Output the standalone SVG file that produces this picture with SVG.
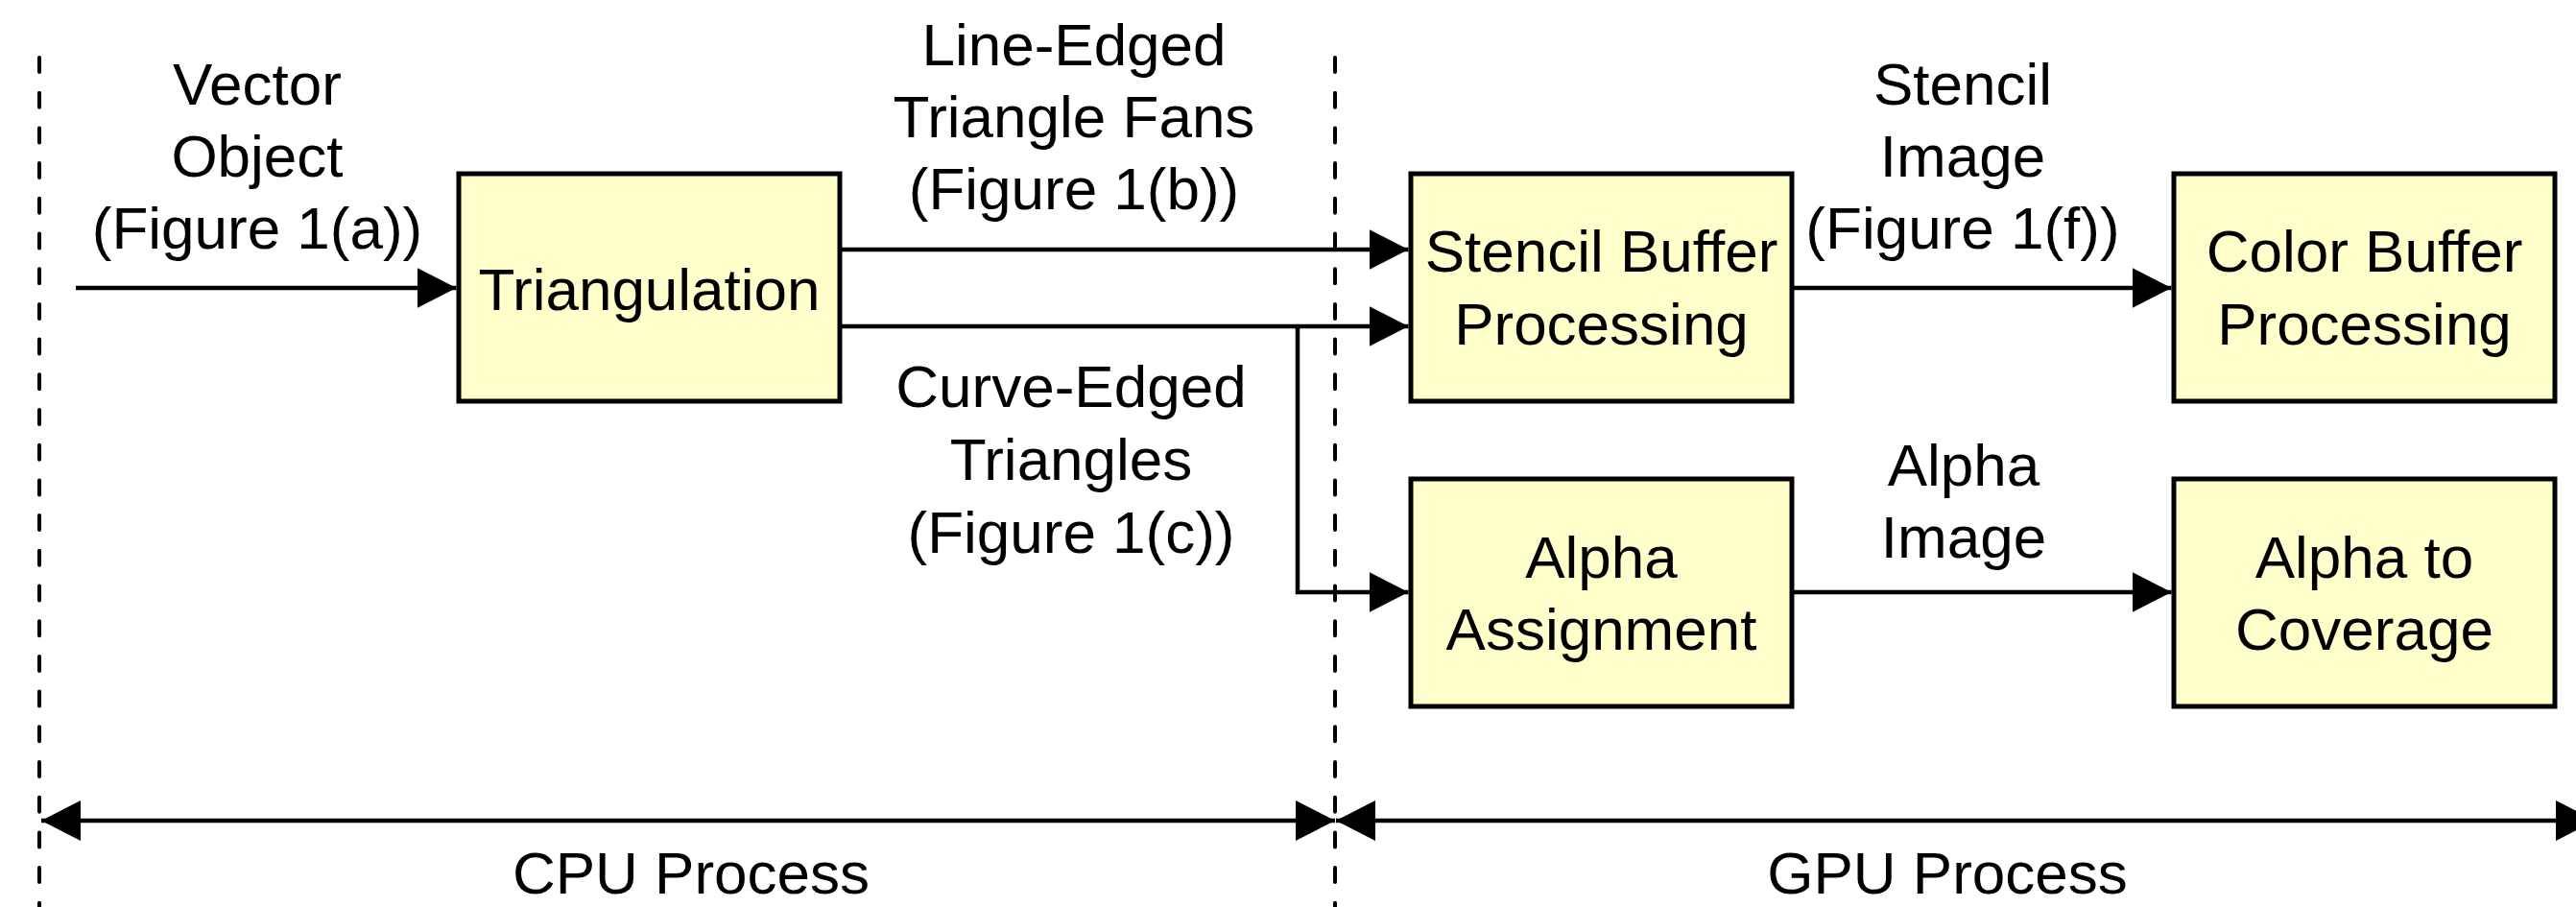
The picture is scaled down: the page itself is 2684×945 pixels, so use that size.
<svg xmlns="http://www.w3.org/2000/svg" width="2684" height="945" viewBox="0 0 2684 945">
  <style>
    .box { fill: #FFFFCC; stroke: #000; stroke-width: 5; }
    .t { font-family: "Liberation Sans", Arial, sans-serif; font-size: 62px; fill: #000; text-anchor: middle; }
    .conn { fill: none; stroke: #000; stroke-width: 4.5; }
    .arr { marker-end: url(#ah); }
    .dbl { marker-start: url(#ah); marker-end: url(#ah); }
    .dash { fill: none; stroke: #000; stroke-width: 4; stroke-linecap: round; stroke-dasharray: 15 21.7; }
  </style>
  <defs>
    <marker id="ah" markerUnits="userSpaceOnUse" markerWidth="41" markerHeight="42" refX="41" refY="21" orient="auto-start-reverse" viewBox="0 0 41 42">
      <path d="M0,0 L41,21 L0,42 Z" fill="#000"/>
    </marker>
  </defs>
  <rect width="2684" height="945" fill="#fff"/>

  <g id="dividers">
    <line class="dash" x1="41" y1="60" x2="41" y2="950"/>
    <line class="dash" x1="1391" y1="60" x2="1391" y2="950"/>
  </g>

  <g id="connectors">
    <path class="conn arr" d="M79,300 H475.5"/>
    <path class="conn arr" d="M875,260 H1467.5"/>
    <path class="conn arr" d="M875,340 H1467.5"/>
    <path class="conn arr" d="M1352,340 V617 H1467.5"/>
    <path class="conn arr" d="M1867,300 H2262.5"/>
    <path class="conn arr" d="M1867,617 H2262.5"/>
    <path class="conn dbl" d="M43,855 H1391"/>
    <path class="conn dbl" d="M1392,855 H2704"/>
  </g>

  <g id="labels">
    <text class="t" x="268" y="108.5">Vector</text>
    <text class="t" x="268" y="183.5">Object</text>
    <text class="t" x="268" y="258.5">(Figure 1(a))</text>
    <text class="t" x="1119" y="68">Line-Edged</text>
    <text class="t" x="1119" y="143">Triangle Fans</text>
    <text class="t" x="1119" y="218">(Figure 1(b))</text>
    <text class="t" x="1116" y="424">Curve-Edged</text>
    <text class="t" x="1116" y="500">Triangles</text>
    <text class="t" x="1116" y="576">(Figure 1(c))</text>
    <text class="t" x="2045" y="108.5">Stencil</text>
    <text class="t" x="2045" y="183.5">Image</text>
    <text class="t" x="2045" y="258.5">(Figure 1(f))</text>
    <text class="t" x="2046" y="506">Alpha</text>
    <text class="t" x="2046" y="581">Image</text>
    <text class="t" x="720" y="931">CPU Process</text>
    <text class="t" x="2029" y="931">GPU Process</text>
  </g>

  <g id="triangulation">
    <rect class="box" x="478" y="181" width="397" height="237"/>
    <text class="t" x="676.5" y="323">Triangulation</text>
  </g>
  <g id="stencil-buffer">
    <rect class="box" x="1470" y="181" width="397" height="237"/>
    <text class="t" x="1668.5" y="283">Stencil Buffer</text>
    <text class="t" x="1668.5" y="359">Processing</text>
  </g>
  <g id="color-buffer">
    <rect class="box" x="2265" y="181" width="397" height="237"/>
    <text class="t" x="2463.5" y="283">Color Buffer</text>
    <text class="t" x="2463.5" y="359">Processing</text>
  </g>
  <g id="alpha-assignment">
    <rect class="box" x="1470" y="499" width="397" height="237"/>
    <text class="t" x="1668.5" y="601.5">Alpha</text>
    <text class="t" x="1668.5" y="677">Assignment</text>
  </g>
  <g id="alpha-to-coverage">
    <rect class="box" x="2265" y="499" width="397" height="237"/>
    <text class="t" x="2463.5" y="601.5">Alpha to</text>
    <text class="t" x="2463.5" y="677">Coverage</text>
  </g>
</svg>
